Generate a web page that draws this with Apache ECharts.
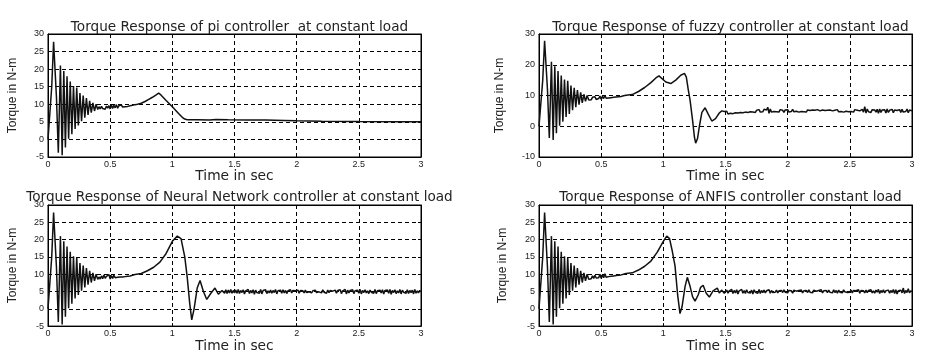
<!DOCTYPE html>
<html>
<head>
<meta charset="utf-8">
<script src="https://cdn.jsdelivr.net/npm/echarts@6/dist/echarts.min.js"></script>
<style>
html,body{margin:0;padding:0;background:#fff;}
#chart{width:925px;height:354px;}
</style>
</head>
<body>
<div id="chart"></div>
<script>
// ---- Data ----
var titles = [
  'Torque Response of pi controller  at constant load',
  'Torque Response of fuzzy controller at constant load',
  'Torque Response of Neural Network controller at constant load',
  'Torque Response of ANFIS controller constant load'
];
var xTitle = 'Time in sec';
var yTitle = 'Torque in N-m';

// common start-up oscillation (all four controllers)
var startT = [0, 0.013, 0.03, 0.045, 0.055, 0.068, 0.083, 0.1, 0.114, 0.127, 0.14, 0.153, 0.166, 0.179, 0.192, 0.205, 0.218, 0.231, 0.244, 0.257, 0.27, 0.283, 0.296, 0.309, 0.322, 0.335, 0.348, 0.361, 0.374, 0.387, 0.40];
var startV = [0, 0.3, 15, 27.8, 27.5, 12, -3.8, 21, -4.5, 19.5, -2.3, 18, 0.2, 16.5, 1.5, 15.2, 3, 14.8, 4, 13.2, 5.2, 12.5, 6.2, 11.8, 7, 11, 7.6, 10.4, 8.1, 10, 8.5];

// 0.41 .. 0.70 sample times (small ripple region)
var midT = [0.41,0.42,0.43,0.44,0.45,0.46,0.47,0.48,0.49,0.50,0.51,0.52,0.53,0.54,0.55,0.56,0.57,0.58,0.59,0.60,0.61,0.62,0.63,0.64,0.65,0.66,0.67,0.68,0.69,0.70];
var piMid    = [9.3,8.7,9.4,8.8,9.2,8.6,9.5,8.9,9.6,8.7,9.8,8.8,9.7,9.0,9.9,8.9,9.6,9.1,9.8,9.2,9.5,9.3,9.6,9.4,9.5,9.6,9.6,9.7,9.8,9.9];
var fuzzyMid = [9.1,8.6,9.4,8.8,9.6,8.7,9.3,9.0,9.8,8.8,9.7,9.0,10.0,9.1,9.6,9.2,9.8,9.3,9.5,9.4,9.5,9.5,9.6,9.6,9.7,9.7,9.8,9.9,10.0,10.1];
var nnMid    = [9.2,8.6,9.5,8.7,9.8,8.8,9.4,8.9,9.9,8.6,9.6,8.8,9.7,9.0,9.5,9.1,9.4,9.2,9.3,9.2,9.3,9.3,9.4,9.4,9.5,9.5,9.6,9.7,9.8,9.9];
var anfisMid = [9.0,8.7,9.5,8.8,9.7,8.9,9.3,9.0,10.0,8.8,9.8,9.0,10.1,9.1,9.6,9.3,9.7,9.4,9.5,9.5,9.6,9.6,9.7,9.7,9.8,9.8,9.9,10.0,10.1,10.2];

// transient after 0.7 s
var piT    = [0.72,0.75,0.78,0.81,0.84,0.87,0.89,0.91,0.95,1.0,1.05,1.08,1.1,1.12,1.2,1.3,1.35,1.36,1.45,1.46,1.6,1.61,1.75,1.76,1.9,1.91,2.0,2.2,2.5,2.8,3.0];
var piV    = [10.0,10.3,10.8,11.4,12.0,12.7,13.2,12.6,11.1,9.3,7.4,6.3,5.8,5.6,5.6,5.55,5.7,5.4,5.6,5.35,5.55,5.3,5.5,5.25,5.4,5.2,5.3,5.2,5.1,5.05,5.0];
var fuzzyT = [0.75,0.8,0.85,0.9,0.94,0.965,0.98,1.02,1.06,1.1,1.14,1.17,1.185,1.2,1.215,1.235,1.25,1.26,1.275,1.29,1.31,1.336,1.36,1.39,1.42,1.45,1.47,1.49];
var fuzzyV = [10.3,11.3,12.6,14.2,15.7,16.4,15.8,14.4,13.9,15.0,16.6,17.2,16.0,12.0,8.5,2.0,-3.5,-5.5,-4.0,0.0,4.5,6.0,4.0,1.7,2.5,4.3,5.0,4.8];
var nnT    = [0.75,0.8,0.85,0.9,0.95,1.0,1.04,1.07,1.1,1.12,1.14,1.156,1.175,1.2,1.223,1.25,1.277,1.31,1.343,1.37,1.4,1.42,1.43,1.44,1.45,1.46,1.47,1.48,1.49];
var nnV    = [10.2,11.0,12.0,13.5,16.0,19.5,21.0,20.3,15.0,9.0,1.5,-3.2,0.0,6.0,8.2,5.0,2.7,4.5,6.0,4.2,5.3,4.5,5.5,4.4,5.4,4.6,5.6,4.5,5.3];
var anfisT = [0.75,0.8,0.85,0.9,0.95,1.0,1.027,1.05,1.07,1.094,1.115,1.134,1.15,1.175,1.193,1.215,1.235,1.255,1.28,1.3,1.32,1.345,1.37,1.4,1.434,1.45,1.47,1.49];
var anfisV = [10.4,11.2,12.3,13.8,16.3,19.5,21.0,20.3,17.0,12.4,4.0,-1.4,0.5,6.5,9.1,6.5,3.5,2.2,4.0,6.2,6.8,4.5,3.4,5.2,6.0,4.6,5.4,4.5];

// steady-state ripple, 1.50 .. 3.00 s
var tailT = [1.50,1.51,1.52,1.53,1.54,1.55,1.56,1.57,1.58,1.59,1.60,1.61,1.62,1.63,1.64,1.65,1.66,1.67,1.68,1.69,1.70,1.71,1.72,1.73,1.74,1.75,1.76,1.77,1.78,1.79,1.80,1.81,1.82,1.83,1.84,1.85,1.86,1.87,1.88,1.89,1.90,1.91,1.92,1.93,1.94,1.95,1.96,1.97,1.98,1.99,2.00,2.01,2.02,2.03,2.04,2.05,2.06,2.07,2.08,2.09,2.10,2.11,2.12,2.13,2.14,2.15,2.16,2.17,2.18,2.19,2.20,2.21,2.22,2.23,2.24,2.25,2.26,2.27,2.28,2.29,2.30,2.31,2.32,2.33,2.34,2.35,2.36,2.37,2.38,2.39,2.40,2.41,2.42,2.43,2.44,2.45,2.46,2.47,2.48,2.49,2.50,2.51,2.52,2.53,2.54,2.55,2.56,2.57,2.58,2.59,2.60,2.61,2.62,2.63,2.64,2.65,2.66,2.67,2.68,2.69,2.70,2.71,2.72,2.73,2.74,2.75,2.76,2.77,2.78,2.79,2.80,2.81,2.82,2.83,2.84,2.85,2.86,2.87,2.88,2.89,2.90,2.91,2.92,2.93,2.94,2.95,2.96,2.97,2.98,2.99,3.00];
var fuzzyTail = [4.3,4.9,4.0,4.6,4.2,4.8,4.1,4.7,4.4,5.0,
  4.3,4.9,4.5,5.1,4.4,4.8,4.6,5.2,4.5,4.9,
  4.7,5.3,4.6,5.0,4.5,5.2,4.8,5.4,4.6,5.1,
  4.7,5.5,4.9,5.3,6.2,4.2,5.6,4.6,5.2,4.8,
  5.3,4.7,5.1,4.6,5.4,4.8,5.2,4.5,5.3,4.9,
  5.4,4.6,5.2,4.8,5.5,4.7,5.1,4.9,5.3,4.6,
  5.2,4.8,5.4,4.7,5.0,4.6,5.3,4.9,5.1,4.7,
  5.3,4.8,5.2,4.6,5.4,4.9,5.0,4.7,5.3,4.8,
  5.1,4.9,5.2,4.7,5.3,4.8,5.0,4.6,5.2,4.9,
  5.4,4.7,5.1,4.8,5.3,4.6,5.2,4.9,5.0,4.7,
  5.3,4.8,5.1,4.6,5.4,4.9,5.2,4.7,5.0,4.8,
  5.5,4.6,6.4,4.3,5.6,4.7,5.2,4.5,5.4,4.9,
  5.3,4.6,5.5,4.2,5.6,4.5,5.3,4.8,5.4,4.3,
  5.6,4.5,5.2,4.7,5.5,4.4,5.3,4.9,5.1,4.6,
  5.4,4.5,5.5,4.6,5.2,4.8,5.6,4.4,5.3,4.7,
  5.0];
var nnTail = [4.6,5.4,4.5,5.6,4.4,5.3,4.7,5.5,4.3,5.2,
  4.8,5.6,4.4,5.3,4.6,5.5,4.2,5.4,4.7,5.2,
  4.5,5.6,4.3,5.3,4.8,5.5,4.4,5.2,4.6,5.4,
  4.5,5.3,4.7,5.6,4.3,5.2,4.8,5.4,4.5,5.5,
  4.6,5.3,4.4,5.2,4.7,5.5,4.6,5.3,4.8,5.2,
  4.7,5.4,4.5,5.3,4.8,5.2,4.6,5.4,4.7,5.1,
  4.9,5.3,4.6,5.2,4.8,5.4,4.7,5.1,4.9,5.3,
  4.6,5.5,4.8,5.2,4.5,5.4,4.7,5.3,4.8,5.1,
  4.6,5.4,4.5,5.3,4.9,5.5,4.4,5.2,4.7,5.6,
  4.3,5.4,4.6,5.3,4.8,5.5,4.4,5.2,4.7,5.4,
  4.5,5.6,4.3,5.3,4.7,5.5,4.6,5.2,4.4,5.4,
  4.8,5.3,4.5,5.6,4.4,5.2,4.7,5.4,4.6,5.5,
  4.3,5.3,4.8,5.4,4.5,5.6,4.2,5.3,4.7,5.5,
  4.4,5.2,4.6,5.6,4.3,5.4,4.8,5.3,4.5,5.5,
  4.4,5.3,4.7,5.4,4.3,5.6,4.5,5.2,4.6,5.3,
  4.9];
var anfisTail = [4.8,5.4,4.5,5.2,4.7,5.6,4.4,5.3,4.6,5.5,
  4.3,5.2,4.8,5.6,4.5,5.3,4.4,5.5,4.7,5.2,
  4.6,5.4,4.3,5.5,4.8,5.2,4.5,5.6,4.4,5.3,
  4.7,5.4,4.6,5.2,4.9,5.5,4.5,5.3,4.7,5.1,
  4.8,5.4,4.6,5.2,4.9,5.3,4.7,5.5,4.8,5.1,
  4.6,5.3,4.8,5.2,4.5,5.4,4.9,5.1,4.7,5.3,
  4.8,5.4,4.6,5.2,4.9,5.3,4.7,5.5,4.8,5.2,
  4.6,5.4,4.9,5.1,4.7,5.3,4.8,5.5,4.6,5.2,
  4.9,5.3,4.7,5.4,4.8,5.2,4.6,5.5,4.7,5.3,
  4.5,5.4,4.8,5.2,4.6,5.5,4.9,5.3,4.7,5.1,
  4.8,5.4,4.6,5.3,4.9,5.2,4.7,5.5,4.5,5.3,
  4.8,5.2,4.6,5.4,4.7,5.3,4.9,5.5,4.6,5.2,
  4.5,5.4,4.8,5.6,4.4,5.3,4.7,5.5,4.6,5.2,
  4.8,5.4,4.5,5.3,4.7,5.6,4.4,5.5,4.3,5.2,
  4.9,5.4,4.6,6.0,4.4,5.3,4.7,5.8,4.6,5.2,
  5.0];

var yMins = [-5, -10, -5, -5];
var yMaxs = [30, 30, 30, 30];
var yIntervals = [5, 10, 5, 5];

// ---- Build ----
function pairs(T, V) { var o = []; for (var i = 0; i < T.length; i++) o.push([T[i], V[i]]); return o; }
var seriesData = [
  pairs(startT, startV).concat(pairs(midT, piMid), pairs(piT, piV)),
  pairs(startT, startV).concat(pairs(midT, fuzzyMid), pairs(fuzzyT, fuzzyV), pairs(tailT, fuzzyTail)),
  pairs(startT, startV).concat(pairs(midT, nnMid), pairs(nnT, nnV), pairs(tailT, nnTail)),
  pairs(startT, startV).concat(pairs(midT, anfisMid), pairs(anfisT, anfisV), pairs(tailT, anfisTail))
];

var grids = [
  {left: 48, top: 34, width: 373, height: 123},
  {left: 539, top: 34, width: 373, height: 123},
  {left: 48, top: 205, width: 373, height: 123},
  {left: 539, top: 205, width: 373, height: 123}
];
var titleTops = [15, 15, 185, 185];
var yNameGaps = [29, 33, 29, 30];

var font = 'Liberation Sans, Arial, sans-serif';
var dash = {color: '#000', width: 1, type: [4, 3]};
var option = {
  backgroundColor: '#fff',
  animation: false,
  title: [], grid: [], xAxis: [], yAxis: [], series: []
};
for (var k = 0; k < 4; k++) {
  var g = grids[k];
  option.title.push({
    text: titles[k], left: g.left + g.width / 2, top: titleTops[k], textAlign: 'center',
    textStyle: {fontFamily: 'DejaVu Sans', fontSize: 13.6, fontWeight: 'normal', color: '#222'}
  });
  option.grid.push({left: g.left, top: g.top, width: g.width, height: g.height,
    show: true, borderColor: '#000', borderWidth: 1, backgroundColor: '#fff'});
  option.xAxis.push({
    type: 'value', gridIndex: k, min: 0, max: 3, interval: 0.5,
    name: xTitle, nameLocation: 'middle', nameGap: 11,
    nameTextStyle: {fontFamily: 'DejaVu Sans', fontSize: 13.8, color: '#222'},
    axisLine: {show: true, onZero: false, lineStyle: {color: '#000', width: 1}},
    axisTick: {show: true, inside: true, length: 3, lineStyle: {color: '#000'}},
    axisLabel: {fontFamily: font, fontSize: 9, color: '#222', margin: 3},
    splitLine: {show: true, lineStyle: dash}
  });
  option.xAxis.push({
    type: 'value', gridIndex: k, min: 0, max: 3, interval: 0.5, position: 'top',
    axisLine: {show: true, onZero: false, lineStyle: {color: '#000'}},
    axisTick: {show: true, inside: true, length: 3, lineStyle: {color: '#000'}},
    axisLabel: {show: false}, splitLine: {show: false}
  });
  option.yAxis.push({
    type: 'value', gridIndex: k, min: yMins[k], max: yMaxs[k], interval: yIntervals[k],
    name: yTitle, nameLocation: 'middle', nameGap: yNameGaps[k],
    nameTextStyle: {fontFamily: font, fontSize: 12, color: '#222'},
    axisLine: {show: true, onZero: false, lineStyle: {color: '#000', width: 1}},
    axisTick: {show: true, inside: true, length: 3, lineStyle: {color: '#000'}},
    axisLabel: {fontFamily: font, fontSize: 9, color: '#222', margin: 4},
    splitLine: {show: true, lineStyle: dash}
  });
  option.yAxis.push({
    type: 'value', gridIndex: k, min: yMins[k], max: yMaxs[k], interval: yIntervals[k], position: 'right',
    axisLine: {show: true, onZero: false, lineStyle: {color: '#000'}},
    axisTick: {show: true, inside: true, length: 3, lineStyle: {color: '#000'}},
    axisLabel: {show: false}, splitLine: {show: false}
  });
  option.series.push({
    type: 'line', xAxisIndex: 2 * k, yAxisIndex: 2 * k, data: seriesData[k],
    showSymbol: false, symbol: 'none', smooth: false,
    lineStyle: {color: '#111', width: 1.5}
  });
}
var chart = echarts.init(document.getElementById('chart'), null, {renderer: 'canvas'});
chart.setOption(option);
</script>
</body>
</html>
